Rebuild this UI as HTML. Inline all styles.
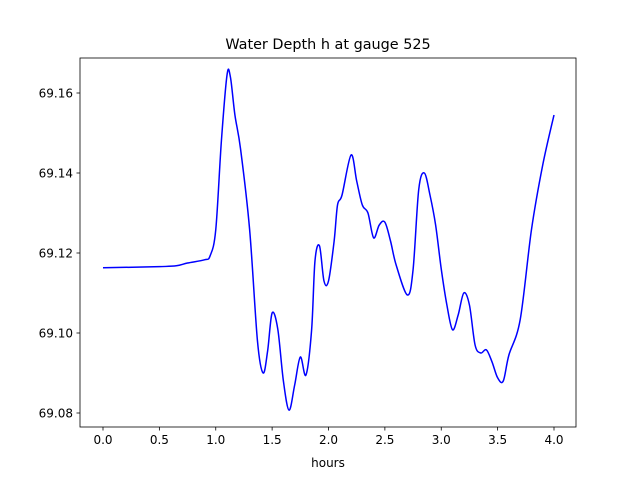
<!DOCTYPE html>
<html><head><meta charset="utf-8">
<style>
body{margin:0;background:#fff;}
svg{font-family:"DejaVu Sans","Liberation Sans",sans-serif;}
</style></head>
<body>
<svg id="chart" width="640" height="480" viewBox="0 0 640 480">
<rect width="640" height="480" fill="#fff"/>
<text x="328" y="49" text-anchor="middle" font-size="14.4" fill="#000">Water Depth h at gauge 525</text>
<g id="plot"></g>
<text x="328" y="467" text-anchor="middle" font-size="12" fill="#000">hours</text>
</svg>
<script>
const hours=[0,0.5,0.65,0.75,0.9,0.95,1.0,1.05,1.1,1.13,1.17,1.22,1.3,1.37,1.42,1.46,1.5,1.55,1.6,1.65,1.7,1.75,1.8,1.85,1.88,1.92,1.96,2.0,2.05,2.08,2.12,2.2,2.25,2.3,2.35,2.4,2.45,2.5,2.55,2.6,2.7,2.75,2.8,2.85,2.9,2.95,3.0,3.05,3.1,3.15,3.2,3.25,3.3,3.35,3.4,3.45,3.5,3.55,3.6,3.7,3.8,3.9,4.0];
const depth=[69.1163,69.1166,69.1168,69.1175,69.1183,69.1193,69.1258,69.148,69.1645,69.164,69.1545,69.146,69.126,69.098,69.090,69.0955,69.105,69.101,69.088,69.0807,69.087,69.094,69.0895,69.1007,69.118,69.1218,69.113,69.113,69.123,69.132,69.1345,69.1445,69.138,69.132,69.130,69.1238,69.127,69.1277,69.123,69.117,69.1095,69.1158,69.1358,69.140,69.1345,69.127,69.116,69.107,69.1008,69.1045,69.110,69.107,69.097,69.095,69.0958,69.0928,69.0888,69.088,69.0945,69.1033,69.1258,69.142,69.1545];
const xTicks=[0,0.5,1.0,1.5,2.0,2.5,3.0,3.5,4.0];
const xTickLabels=["0.0","0.5","1.0","1.5","2.0","2.5","3.0","3.5","4.0"];
const yTicks=[69.08,69.10,69.12,69.14,69.16];
const yTickLabels=["69.08","69.10","69.12","69.14","69.16"];

const L=80,R=576,T=58,B=427;
const xs=h=>103+h*112.75;
const ys=v=>93+(69.16-v)*4000;
const NS="http://www.w3.org/2000/svg";
const g=document.getElementById('plot');
function mk(tag,attrs){const e=document.createElementNS(NS,tag);for(const k in attrs)e.setAttribute(k,attrs[k]);g.appendChild(e);return e;}

xTicks.forEach((t,i)=>{
  const x=xs(t);
  const tk=mk('line',{x1:x,x2:x,y1:B,y2:B+3.5,stroke:'#000','stroke-width':0.8});
  
  
  const tx=mk('text',{x:x,y:B+17,'text-anchor':'middle','font-size':12});
  tx.textContent=xTickLabels[i];
  
  
});
yTicks.forEach((t,i)=>{
  const y=ys(t);
  const tk=mk('line',{x1:L-3.5,x2:L,y1:y,y2:y,stroke:'#000','stroke-width':0.8});
  
  
  const tx=mk('text',{x:L-7,y:y+4.5,'text-anchor':'end','font-size':12});
  tx.textContent=yTickLabels[i];
  
  
});

const pts=hours.map((h,i)=>[xs(h),ys(depth[i])]);
let d='M'+pts[0][0]+','+pts[0][1];
for(let i=0;i<pts.length-1;i++){
  const p0=pts[Math.max(0,i-1)],p1=pts[i],p2=pts[i+1],p3=pts[Math.min(pts.length-1,i+2)];
  const c1=[p1[0]+(p2[0]-p0[0])/6,p1[1]+(p2[1]-p0[1])/6];
  const c2=[p2[0]-(p3[0]-p1[0])/6,p2[1]-(p3[1]-p1[1])/6];
  d+=' C'+c1[0]+','+c1[1]+' '+c2[0]+','+c2[1]+' '+p2[0]+','+p2[1];
}
const line=mk('path',{d:d,fill:'none',stroke:'#0000ff','stroke-width':1.5});



const frame=mk('rect',{x:L,y:T,width:R-L,height:B-T,fill:'none',stroke:'#000','stroke-width':0.8});


</script>
</body></html>
